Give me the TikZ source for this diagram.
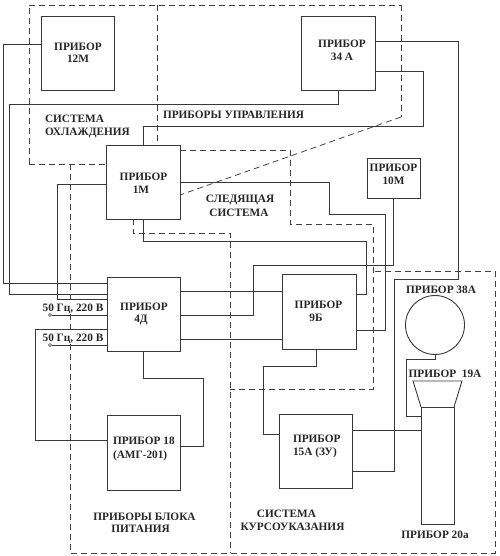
\documentclass[tikz,border=0pt]{standalone}
\usepackage{fontspec}
\setmainfont{Liberation Serif}
\tikzset{
  line/.style={draw=black!78,line width=0.9pt},
  box/.style={line,rectangle,fill=none,inner sep=0pt,outer sep=0pt},
  zone/.style={draw=black!75,line width=0.8pt,dash pattern=on 6pt off 4pt},
  lbl/.style={inner sep=0pt,outer sep=0pt,anchor=base,font=\fontsize{11.3}{12}\selectfont\bfseries,text=black!85},
  lbll/.style={lbl,anchor=base west},
  term/.style={circle,draw=black!78,line width=0.6pt,fill=white,inner sep=0pt,minimum size=3pt,outer sep=0pt}
}
\begin{document}
\begin{tikzpicture}[x=1pt,y=-1pt]
\path[use as bounding box] (0,0) rectangle (499,556);
% zones
\draw[zone] (29,164) -- (106,164);
\draw[zone] (29,164) -- (29,5);
\draw[zone] (29,5) -- (401,5);
\draw[zone] (401,5) -- (401,117);
\draw[zone] (401,117) -- (180,195);
\draw[zone] (157,5) -- (157,145);
\draw[zone] (180,150) -- (290,150) -- (290,224) -- (373,224) -- (373,389) -- (230,389);
\draw[zone] (133,219) -- (133,233) -- (230,233) -- (230,553);
\draw[zone] (70,164) -- (70,553) -- (495,553) -- (495,271) -- (373,271);
% boxes
\node[box,minimum width=73pt,minimum height=74pt] (m12) at (77.5,53) {};
\node[box,minimum width=74pt,minimum height=74pt] (a34) at (338,53) {};
\node[box,minimum width=74pt,minimum height=74pt] (m1) at (143,182) {};
\node[box,minimum width=53pt,minimum height=40pt] (m10) at (393.5,178) {};
\node[box,minimum width=73pt,minimum height=74pt] (d4) at (143.5,314) {};
\node[box,minimum width=73pt,minimum height=75pt] (p18) at (143.5,452.5) {};
\node[box,minimum width=74pt,minimum height=75pt] (b9) at (319,311.5) {};
\node[box,minimum width=73pt,minimum height=74pt] (a15) at (315.5,451) {};
\node[line,circle,inner sep=0pt,outer sep=0pt,minimum size=59pt] (a38) at (435,325) {};
\node[box,minimum width=33pt,minimum height=117pt] (a20) at (437.5,465.5) {};
\coordinate (tl) at (413,381); \coordinate (tr) at (462,381);
\draw[line] (a20.north west) -- (tl) -- (tr) -- (a20.north east);
% terminals
\node[term] (t1) at (50,315) {};
\node[term] (t2) at (50,345) {};
% connectors
\draw[line] (m12.west |- 0,44) -| (3,283) -- (d4.west |- 0,283);
\draw[line] (a34.south |- 0,90) |- (9,104) |- (d4.west |- 0,294);
\draw[line] (m1.west |- 0,184) -| (57,299) -- (d4.west |- 0,299);
\draw[line] (m1.north) |- (423,126) |- (a34.east |- 0,71);
\draw[line] (a34.east |- 0,41) -| (458,279) -| (394,471) -- (a15.east |- 0,471);
\draw[line] (m1.east |- 0,182) -| (329,214) -| (385,330) -- (b9.east |- 0,330);
\draw[line] (m1.south) |- (366,241) |- (b9.east |- 0,294);
\draw[line] (m10.south) |- (253,265) |- (d4.east |- 0,315);
\draw[line] (d4.east |- 0,291) -- (b9.west |- 0,291);
\draw[line] (d4.east |- 0,339) -- (b9.west |- 0,339);
\draw[line] (d4.south) |- (203,378) |- (p18.east |- 0,446);
\draw[line] (p18.west |- 0,440) -| (35,329) -- (d4.west |- 0,329);
\draw[line] (t1) -- (d4.west |- t1);
\draw[line] (t2) -- (d4.west |- t2);
\draw[line] (316,349) |- (263,366) |- (a15.west |- 0,434);
\draw[line] (a15.east |- 0,430) -- (a20.west |- 0,430);
\draw[line] (a38.south) |- (406,359) |- (a20.west |- 0,416);
% labels
\node[lbl] (l1) at (78,50.5) {ПРИБОР};
\node[lbl] (l2) at (78,63) {12М};
\node[lbl] (l3) at (342,48) {ПРИБОР};
\node[lbl] (l4) at (342,61) {34 А};
\node[lbl] (l5) at (143.5,180) {ПРИБОР};
\node[lbl] (l6) at (141,193) {1М};
\node[lbl] (l7) at (393.5,171.5) {ПРИБОР};
\node[lbl] (l8) at (393.5,184) {10М};
\node[lbl] (l9) at (144,310) {ПРИБОР};
\node[lbl] (l10) at (141,322) {4Д};
\node[lbl,anchor=base west] (l11) at (113,444) {ПРИБОР 18};
\node[lbl,anchor=base west] (l12) at (113,458) {(АМГ-201)};
\node[lbl] (l13) at (318.5,308) {ПРИБОР};
\node[lbl] (l14) at (316,321) {9Б};
\node[lbl,anchor=base west] (l15) at (293,442) {ПРИБОР};
\node[lbl,anchor=base west] (l16) at (293,455) {15А (ЗУ)};
\node[lbl] (l17) at (441,293) {ПРИБОР 38А};
\node[lbl] (l18) at (445,377) {ПРИБОР\hspace{0.25em} 19А};
\node[lbl] (l19) at (435,538) {ПРИБОР 20а};
\node[lbl,fill=white] (l20) at (73,311) {50 Гц, 220 В};
\node[lbl,fill=white] (l21) at (73,341) {50 Гц, 220 В};
\node[lbll] (l22) at (45,123) {СИСТЕМА};
\node[lbll] (l23) at (45,136) {ОХЛАЖДЕНИЯ};
\node[lbl] (l24) at (233.5,119) {ПРИБОРЫ УПРАВЛЕНИЯ};
\node[lbl] (l25) at (240,202) {СЛЕДЯЩАЯ};
\node[lbl] (l26) at (239,216) {СИСТЕМА};
\node[lbl] (l27) at (144.5,520) {ПРИБОРЫ БЛОКА};
\node[lbl] (l28) at (140.5,532.5) {ПИТАНИЯ};
\node[lbl] (l29) at (286.5,517) {СИСТЕМА};
\node[lbl] (l30) at (292.5,530) {КУРСОУКАЗАНИЯ};
\end{tikzpicture}
\end{document}
